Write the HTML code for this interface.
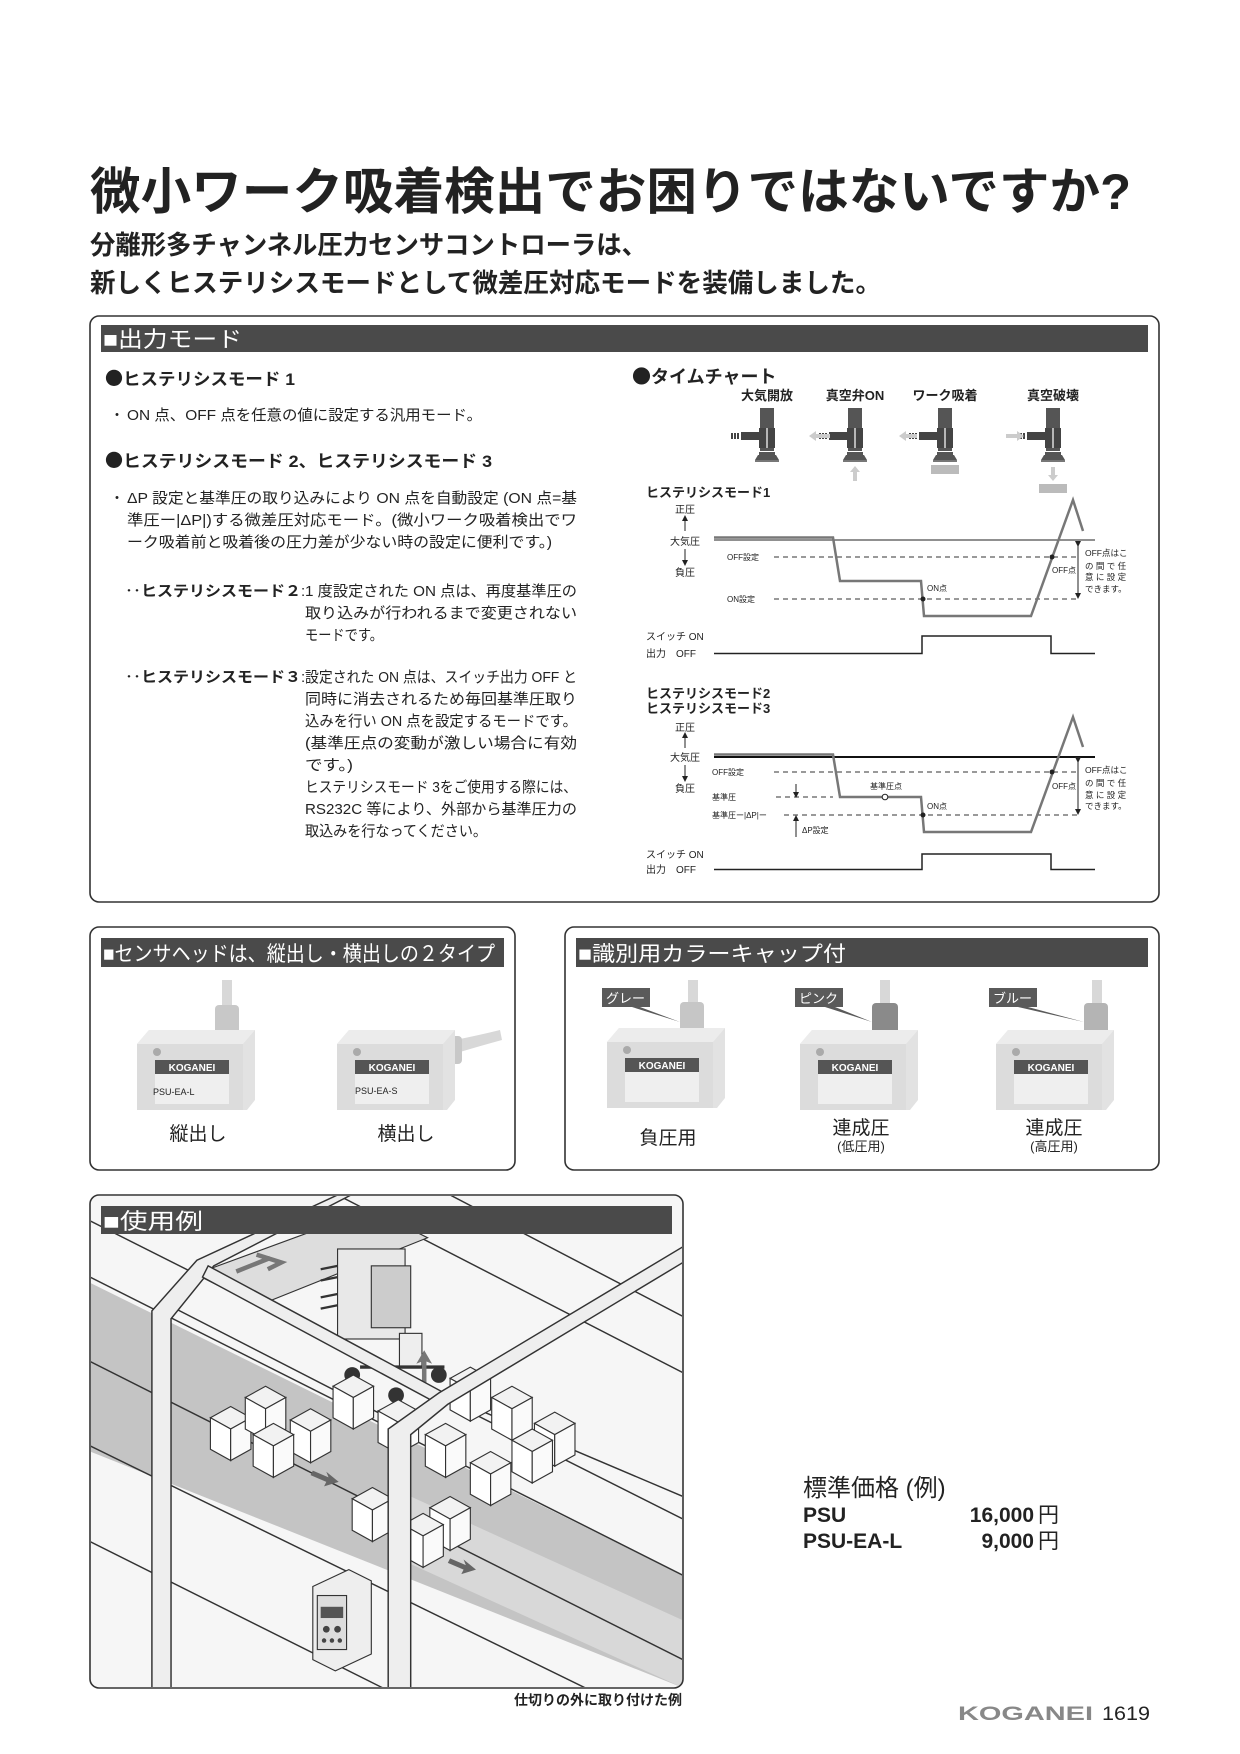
<!DOCTYPE html>
<html><head><meta charset="utf-8"><style>
html,body{margin:0;padding:0;background:#fff}
svg{display:block}
text{font-family:"Liberation Sans","Noto Sans CJK JP",sans-serif;fill:#222}
.b{font-weight:bold}
.dot{font-family:"Noto Sans CJK JP",sans-serif}
</style></head><body>
<svg width="1240" height="1754" viewBox="0 0 1240 1754" xmlns="http://www.w3.org/2000/svg">
<defs>
<g id="valve">
  <rect x="-7" y="0" width="14" height="20" fill="#555"/>
  <rect x="-8" y="20" width="16" height="20" fill="#444"/>
  <line x1="0" y1="20" x2="0" y2="40" stroke="#ddd" stroke-width="1.5"/>
  <rect x="-26" y="24" width="18" height="8" fill="#444"/>
  <rect x="-30" y="25" width="2" height="6" fill="#444"/><rect x="-33" y="25" width="2" height="6" fill="#444"/><rect x="-36" y="25" width="2" height="6" fill="#444"/>
  <rect x="-7" y="40" width="14" height="3" fill="#555"/>
  <rect x="-8" y="44" width="16" height="3" fill="#555"/>
  <path d="M-12 52 L12 52 L9 47 L-9 47Z" fill="#555"/>
  <rect x="-12" y="52" width="24" height="2" fill="#777"/>
</g>
<g id="cube">
  <polygon points="0,10 18,0 36,10 18,20" fill="#f2f2f2" stroke="#333" stroke-width="1"/>
  <polygon points="0,10 18,20 18,48 0,38" fill="#fff" stroke="#333" stroke-width="1"/>
  <polygon points="18,20 36,10 36,38 18,48" fill="#fafafa" stroke="#333" stroke-width="1"/>
</g>
<g id="sensor">
  <path d="M0 14 L12 0 L118 0 L118 70 L110 80 L0 80Z" fill="#e2e2e2"/>
  <path d="M0 14 L12 0 L118 0 L106 14Z" fill="#ececec"/>
  <rect x="0" y="14" width="106" height="66" fill="#dcdcdc"/>
  <circle cx="20" cy="22" r="4" fill="#aaa"/>
  <rect x="18" y="30" width="74" height="14" fill="#555"/>
  <text x="55" y="41" font-size="10" text-anchor="middle" class="b" style="fill:#fff">KOGANEI</text>
  <rect x="18" y="44" width="74" height="30" fill="#efefef"/>
</g>
<clipPath id="clipill"><rect x="91" y="1196" width="591" height="491" rx="8"/></clipPath>
<marker id="ah" markerWidth="6" markerHeight="6" refX="3" refY="3" orient="auto"><path d="M0 0L6 3L0 6Z" fill="#222"/></marker>
</defs>

<!-- Title -->
<text x="90" y="209" font-size="50" class="b" textLength="1041" lengthAdjust="spacingAndGlyphs">微小ワーク吸着検出でお困りではないですか?</text>
<text x="90" y="254" font-size="26" class="b" textLength="557" lengthAdjust="spacingAndGlyphs">分離形多チャンネル圧力センサコントローラは、</text>
<text x="90" y="292" font-size="26" class="b" textLength="791" lengthAdjust="spacingAndGlyphs">新しくヒステリシスモードとして微差圧対応モードを装備しました。</text>

<!-- Box 1 -->
<rect x="90" y="316" width="1069" height="586" rx="9" fill="none" stroke="#333" stroke-width="1.6"/>
<rect x="101" y="325" width="1047" height="27" fill="#4a4a4a"/>
<text x="103" y="347" font-size="22" style="fill:#fff" textLength="139" lengthAdjust="spacingAndGlyphs">■出力モード</text>

<text x="105" y="385" font-size="18" class="b dot">●</text>
<text x="123" y="385" font-size="17" class="b" textLength="172" lengthAdjust="spacingAndGlyphs">ヒステリシスモード 1</text>
<text x="110" y="420" font-size="14">・</text>
<text x="127" y="420" font-size="15" textLength="355" lengthAdjust="spacingAndGlyphs">ON 点、OFF 点を任意の値に設定する汎用モード。</text>
<text x="105" y="467" font-size="18" class="b dot">●</text>
<text x="123" y="467" font-size="17" class="b" textLength="369" lengthAdjust="spacingAndGlyphs">ヒステリシスモード 2、ヒステリシスモード 3</text>
<text x="110" y="503" font-size="14">・</text>
<text x="127" y="503" font-size="15" textLength="450" lengthAdjust="spacingAndGlyphs">ΔP 設定と基準圧の取り込みにより ON 点を自動設定 (ON 点=基</text>
<text x="127" y="525" font-size="15" textLength="450" lengthAdjust="spacingAndGlyphs">準圧ー|ΔP|)する微差圧対応モード。(微小ワーク吸着検出でワ</text>
<text x="127" y="547" font-size="15" textLength="425" lengthAdjust="spacingAndGlyphs">ーク吸着前と吸着後の圧力差が少ない時の設定に便利です。)</text>

<text x="125" y="596" font-size="15" class="b" textLength="176" lengthAdjust="spacingAndGlyphs">‥ヒステリシスモード２</text>
<text x="301" y="596" font-size="15">:</text>
<text x="305" y="596" font-size="15" textLength="272" lengthAdjust="spacingAndGlyphs">1 度設定された ON 点は、再度基準圧の</text>
<text x="305" y="618" font-size="15" textLength="272" lengthAdjust="spacingAndGlyphs">取り込みが行われるまで変更されない</text>
<text x="305" y="640" font-size="15" textLength="78" lengthAdjust="spacingAndGlyphs">モードです。</text>

<text x="125" y="682" font-size="15" class="b" textLength="176" lengthAdjust="spacingAndGlyphs">‥ヒステリシスモード３</text>
<text x="301" y="682" font-size="15">:</text>
<text x="305" y="682" font-size="15" textLength="272" lengthAdjust="spacingAndGlyphs">設定された ON 点は、スイッチ出力 OFF と</text>
<text x="305" y="704" font-size="15" textLength="272" lengthAdjust="spacingAndGlyphs">同時に消去されるため毎回基準圧取り</text>
<text x="305" y="726" font-size="15" textLength="272" lengthAdjust="spacingAndGlyphs">込みを行い ON 点を設定するモードです。</text>
<text x="305" y="748" font-size="15" textLength="272" lengthAdjust="spacingAndGlyphs">(基準圧点の変動が激しい場合に有効</text>
<text x="305" y="770" font-size="15" textLength="48" lengthAdjust="spacingAndGlyphs">です。)</text>
<text x="305" y="792" font-size="15" textLength="272" lengthAdjust="spacingAndGlyphs">ヒステリシスモード 3をご使用する際には、</text>
<text x="305" y="814" font-size="15" textLength="272" lengthAdjust="spacingAndGlyphs">RS232C 等により、外部から基準圧力の</text>
<text x="305" y="836" font-size="15" textLength="182" lengthAdjust="spacingAndGlyphs">取込みを行なってください。</text>

<!-- Time chart -->
<text x="632" y="383" font-size="19" class="b dot">●</text>
<text x="651" y="383" font-size="18" class="b">タイムチャート</text>
<text x="767" y="400" font-size="13" class="b" text-anchor="middle">大気開放</text>
<text x="855" y="400" font-size="13" class="b" text-anchor="middle">真空弁ON</text>
<text x="945" y="400" font-size="13" class="b" text-anchor="middle">ワーク吸着</text>
<text x="1053" y="400" font-size="13" class="b" text-anchor="middle">真空破壊</text>
<use href="#valve" x="767" y="408"/>
<use href="#valve" x="855" y="408"/>
<use href="#valve" x="945" y="408"/>
<use href="#valve" x="1053" y="408"/>
<g fill="#ccc">
<path d="M809 436 L816 431 L816 434 L830 434 L830 438 L816 438 L816 441Z"/>
<path d="M899 436 L906 431 L906 434 L917 434 L917 438 L906 438 L906 441Z"/>
<path d="M1024 436 L1017 431 L1017 434 L1006 434 L1006 438 L1017 438 L1017 441Z"/>
<path d="M855 466 L850 472 L853 472 L853 481 L857 481 L857 472 L860 472Z"/>
<path d="M1053 481 L1048 475 L1051 475 L1051 467 L1055 467 L1055 475 L1058 475Z"/>
</g>
<rect x="931" y="465" width="28" height="9" fill="#bbb"/>
<rect x="1039" y="484" width="28" height="9" fill="#bbb"/>

<text x="646" y="497" font-size="13" class="b">ヒステリシスモード1</text>
<text x="685" y="513" font-size="10" text-anchor="middle">正圧</text>
<text x="685" y="545" font-size="10" text-anchor="middle">大気圧</text>
<text x="685" y="576" font-size="10" text-anchor="middle">負圧</text>
<line x1="685" y1="531" x2="685" y2="518" stroke="#222" marker-end="url(#ah)"/>
<line x1="685" y1="549" x2="685" y2="563" stroke="#222" marker-end="url(#ah)"/>
<line x1="714" y1="540" x2="1095" y2="540" stroke="#222" stroke-width="1"/>
<line x1="774" y1="557" x2="1078" y2="557" stroke="#333" stroke-dasharray="5,4"/>
<line x1="774" y1="599" x2="1078" y2="599" stroke="#333" stroke-dasharray="5,4"/>
<text x="727" y="560" font-size="8">OFF設定</text>
<text x="727" y="602" font-size="8">ON設定</text>
<polyline points="714,537.5 833,537.5 840,581 921,581 924,616 1031,616 1073,500 1083,531" fill="none" stroke="#777" stroke-width="2.5"/>
<circle cx="923" cy="599" r="2.5" fill="#222"/><circle cx="1052" cy="557" r="2.5" fill="#222"/>
<text x="927" y="591" font-size="8">ON点</text>
<text x="1052" y="573" font-size="8">OFF点</text>
<line x1="1078" y1="544" x2="1078" y2="596" stroke="#222" marker-start="url(#ah)" marker-end="url(#ah)"/>
<text x="1085" y="556" font-size="8.5">OFF点はこ</text><text x="1085" y="569" font-size="8.5">の 間 で 任</text><text x="1085" y="580" font-size="8.5">意 に 設 定</text><text x="1085" y="592" font-size="8.5">できます。</text>
<text x="646" y="640" font-size="10">スイッチ ON</text>
<text x="646" y="657" font-size="10">出力　OFF</text>
<polyline points="714,653.5 922,653.5 922,636 1051,636 1051,653.5 1095,653.5" fill="none" stroke="#222" stroke-width="1.5"/>

<text x="646" y="698" font-size="13" class="b">ヒステリシスモード2</text>
<text x="646" y="713" font-size="13" class="b">ヒステリシスモード3</text>
<text x="685" y="731" font-size="10" text-anchor="middle">正圧</text>
<text x="685" y="761" font-size="10" text-anchor="middle">大気圧</text>
<text x="685" y="792" font-size="10" text-anchor="middle">負圧</text>
<line x1="685" y1="748" x2="685" y2="735" stroke="#222" marker-end="url(#ah)"/>
<line x1="685" y1="765" x2="685" y2="779" stroke="#222" marker-end="url(#ah)"/>
<line x1="714" y1="757" x2="1095" y2="757" stroke="#111" stroke-width="2"/>
<line x1="774" y1="772" x2="1078" y2="772" stroke="#333" stroke-dasharray="5,4"/>
<line x1="776" y1="797" x2="833" y2="797" stroke="#333" stroke-dasharray="5,4"/>
<line x1="784" y1="815" x2="1078" y2="815" stroke="#333" stroke-dasharray="5,4"/>
<text x="712" y="775" font-size="8">OFF設定</text>
<text x="712" y="800" font-size="8">基準圧</text>
<text x="712" y="818" font-size="8">基準圧ー|ΔP|ー</text>
<polyline points="714,754.5 833,754.5 840,797 921,797 924,832 1031,832 1073,717 1083,747" fill="none" stroke="#777" stroke-width="2.5"/>
<circle cx="885" cy="797" r="2.8" fill="#fff" stroke="#222"/>
<text x="886" y="789" font-size="8" text-anchor="middle">基準圧点</text>
<circle cx="923" cy="815" r="2.5" fill="#222"/><circle cx="1052" cy="772" r="2.5" fill="#222"/>
<text x="927" y="809" font-size="8">ON点</text>
<line x1="796" y1="784" x2="796" y2="795" stroke="#222" marker-end="url(#ah)"/>
<line x1="796" y1="837" x2="796" y2="818" stroke="#222" marker-end="url(#ah)"/>
<text x="802" y="833" font-size="8">ΔP設定</text>
<text x="1052" y="789" font-size="8">OFF点</text>
<line x1="1078" y1="760" x2="1078" y2="812" stroke="#222" marker-start="url(#ah)" marker-end="url(#ah)"/>
<text x="1085" y="773" font-size="8.5">OFF点はこ</text><text x="1085" y="786" font-size="8.5">の 間 で 任</text><text x="1085" y="798" font-size="8.5">意 に 設 定</text><text x="1085" y="809" font-size="8.5">できます。</text>
<text x="646" y="858" font-size="10">スイッチ ON</text>
<text x="646" y="873" font-size="10">出力　OFF</text>
<polyline points="714,869.5 922,869.5 922,854 1051,854 1051,869.5 1095,869.5" fill="none" stroke="#222" stroke-width="1.5"/>

<!-- Box 2 -->
<rect x="90" y="927" width="425" height="243" rx="9" fill="none" stroke="#333" stroke-width="1.6"/>
<rect x="101" y="938" width="403" height="29" fill="#4a4a4a"/>
<text x="103" y="961" font-size="21" style="fill:#fff" textLength="392" lengthAdjust="spacingAndGlyphs">■センサヘッドは、縦出し・横出しの２タイプ</text>
<rect x="222" y="980" width="10" height="30" fill="#d8d8d8"/>
<rect x="215" y="1005" width="24" height="32" rx="4" fill="#c8c8c8"/>
<use href="#sensor" x="137" y="1030"/>
<text x="153" y="1095" font-size="9" fill="#444">PSU-EA-L</text>
<path d="M455 1040 Q480 1035 500 1030 L502 1040 Q480 1046 460 1052Z" fill="#d8d8d8"/>
<rect x="440" y="1036" width="22" height="28" rx="4" fill="#c8c8c8"/>
<use href="#sensor" x="337" y="1030"/>
<text x="355" y="1094" font-size="9" fill="#444">PSU-EA-S</text>
<text x="198" y="1140" font-size="19" text-anchor="middle">縦出し</text>
<text x="406" y="1140" font-size="19" text-anchor="middle">横出し</text>

<!-- Box 3 -->
<rect x="565" y="927" width="594" height="243" rx="9" fill="none" stroke="#333" stroke-width="1.6"/>
<rect x="576" y="938" width="572" height="29" fill="#4a4a4a"/>
<text x="578" y="961" font-size="21" style="fill:#fff" textLength="268" lengthAdjust="spacingAndGlyphs">■識別用カラーキャップ付</text>
<rect x="688" y="980" width="10" height="25" fill="#d8d8d8"/>
<rect x="680" y="1002" width="24" height="32" rx="4" fill="#c6c6c6"/>
<use href="#sensor" x="607" y="1028"/>
<path d="M602 988 L650 988 L650 1007 L640 1007 L680 1022 L632 1007 L602 1007Z" fill="#5a5a5a"/>
<text x="606" y="1003" font-size="13" style="fill:#fff">グレー</text>
<rect x="880" y="980" width="10" height="25" fill="#d8d8d8"/>
<rect x="872" y="1003" width="26" height="35" rx="4" fill="#8a8a8a"/>
<use href="#sensor" x="800" y="1030"/>
<path d="M795 988 L843 988 L843 1007 L835 1007 L872 1022 L825 1007 L795 1007Z" fill="#5a5a5a"/>
<text x="799" y="1003" font-size="13" style="fill:#fff">ピンク</text>
<rect x="1092" y="980" width="10" height="25" fill="#d8d8d8"/>
<rect x="1084" y="1003" width="24" height="32" rx="4" fill="#b4b4b4"/>
<use href="#sensor" x="996" y="1030"/>
<path d="M989 988 L1037 988 L1037 1007 L1028 1007 L1084 1022 L1018 1007 L989 1007Z" fill="#5a5a5a"/>
<text x="993" y="1003" font-size="13" style="fill:#fff">ブルー</text>
<text x="668" y="1144" font-size="19" text-anchor="middle">負圧用</text>
<text x="861" y="1134" font-size="19" text-anchor="middle">連成圧</text>
<text x="861" y="1151" font-size="13" text-anchor="middle">(低圧用)</text>
<text x="1054" y="1134" font-size="19" text-anchor="middle">連成圧</text>
<text x="1054" y="1151" font-size="13" text-anchor="middle">(高圧用)</text>

<!-- Box 4 illustration -->
<g clip-path="url(#clipill)">
<rect x="91" y="1196" width="591" height="491" fill="#f6f6f6"/>
<g transform="scale(1.1252)">
  <polygon points="80,1140 607,1400 607,1500 80,1290" fill="#c4c4c4"/>
  <polygon points="365,1330 607,1440 607,1500 365,1390" fill="#d8d8d8"/>
  <g stroke="#333" stroke-width="1.3" fill="none">
    <line x1="80" y1="1135" x2="607" y2="1400"/>
    <line x1="80" y1="1210" x2="607" y2="1475"/>
    <line x1="80" y1="1285" x2="520" y2="1500"/>
    <line x1="80" y1="1370" x2="340" y2="1500"/>
    <line x1="150" y1="1160" x2="345" y2="1260"/>
    <line x1="80" y1="1085" x2="607" y2="1350"/>
    <line x1="300" y1="1062" x2="607" y2="1220"/>
    <line x1="400" y1="1062" x2="607" y2="1170"/>
    <line x1="395" y1="1240" x2="607" y2="1330"/>
  </g>
  <polygon points="180,1130 330,1075 380,1100 230,1160" fill="#ddd" stroke="#333"/>
  <path d="M210 1130 L240 1118 M228 1115 L250 1122 L238 1128" stroke="#777" stroke-width="4" fill="none"/>
  <rect x="300" y="1110" width="60" height="80" fill="#e8e8e8" stroke="#333"/>
  <rect x="330" y="1125" width="35" height="55" fill="#ccc" stroke="#333"/>
  <g stroke="#333" stroke-width="2"><line x1="300" y1="1125" x2="285" y2="1128"/><line x1="300" y1="1135" x2="285" y2="1138"/><line x1="300" y1="1150" x2="285" y2="1153"/><line x1="300" y1="1160" x2="285" y2="1163"/></g>
  <rect x="355" y="1185" width="20" height="30" fill="#eee" stroke="#333"/>
  <line x1="320" y1="1215" x2="395" y2="1215" stroke="#333" stroke-width="3"/>
  <circle cx="313" cy="1222" r="7" fill="#333"/><circle cx="352" cy="1240" r="7" fill="#333"/><circle cx="390" cy="1222" r="7" fill="#333"/>
  <path d="M375 1230 L375 1210 L370 1212 L377 1200 L384 1212 L379 1210 L379 1230Z" fill="#777"/>
  <use href="#cube" x="187" y="1250"/><use href="#cube" x="218" y="1232"/><use href="#cube" x="258" y="1252"/>
  <use href="#cube" x="225" y="1265"/><use href="#cube" x="296" y="1222"/><use href="#cube" x="336" y="1244"/>
  <use href="#cube" x="400" y="1215"/><use href="#cube" x="437" y="1232"/><use href="#cube" x="475" y="1255"/>
  <use href="#cube" x="378" y="1265"/><use href="#cube" x="418" y="1290"/><use href="#cube" x="455" y="1270"/>
  <use href="#cube" x="313" y="1322"/><use href="#cube" x="382" y="1330"/><use href="#cube" x="358" y="1345"/>
  <path d="M278 1307 L292 1313 L290 1308 L301 1317 L288 1321 L290 1317 L276 1311Z" fill="#666"/>
  <path d="M400 1385 L414 1391 L412 1386 L423 1395 L410 1399 L412 1395 L398 1389Z" fill="#666"/>
  <g fill="#eee" stroke="#333" stroke-width="1.3">
    <polygon points="135,1500 135,1165 175,1120 300,1062 312,1062 190,1125 152,1172 152,1500"/>
    <polygon points="185,1125 395,1238 390,1248 180,1135"/>
    <polygon points="345,1500 345,1270 390,1238 607,1108 607,1122 398,1248 365,1275 365,1500"/>
  </g>
  <polygon points="278,1410 310,1395 330,1405 330,1470 298,1485 278,1475" fill="#eee" stroke="#333"/>
  <rect x="282" y="1418" width="26" height="48" fill="#ddd" stroke="#333"/>
  <rect x="285" y="1428" width="20" height="10" fill="#555"/>
  <circle cx="290" cy="1448" r="3" fill="#444"/><circle cx="300" cy="1448" r="3" fill="#444"/>
  <circle cx="288" cy="1458" r="2" fill="#444"/><circle cx="295" cy="1458" r="2" fill="#444"/><circle cx="302" cy="1458" r="2" fill="#444"/>
</g>
</g>
<rect x="90" y="1195" width="593" height="493" rx="9" fill="none" stroke="#333" stroke-width="1.6"/>
<rect x="101" y="1206" width="571" height="28" fill="#4a4a4a"/>
<text x="103" y="1229" font-size="22" style="fill:#fff" textLength="100" lengthAdjust="spacingAndGlyphs">■使用例</text>
<text x="682" y="1705" font-size="14" class="b" text-anchor="end">仕切りの外に取り付けた例</text>

<!-- Price -->
<text x="803" y="1496" font-size="24">標準価格 (例)</text>
<text x="803" y="1522" font-size="21" class="b">PSU</text>
<text x="1034" y="1522" font-size="21" class="b" text-anchor="end">16,000</text>
<text x="1038" y="1522" font-size="21">円</text>
<text x="803" y="1548" font-size="21" class="b">PSU-EA-L</text>
<text x="1034" y="1548" font-size="21" class="b" text-anchor="end">9,000</text>
<text x="1038" y="1548" font-size="21">円</text>

<text x="958" y="1720" font-size="19" class="b" style="fill:#888" textLength="135" lengthAdjust="spacingAndGlyphs">KOGANEI</text>
<text x="1102" y="1720" font-size="19" textLength="48" lengthAdjust="spacingAndGlyphs">1619</text>
</svg>
</body></html>
